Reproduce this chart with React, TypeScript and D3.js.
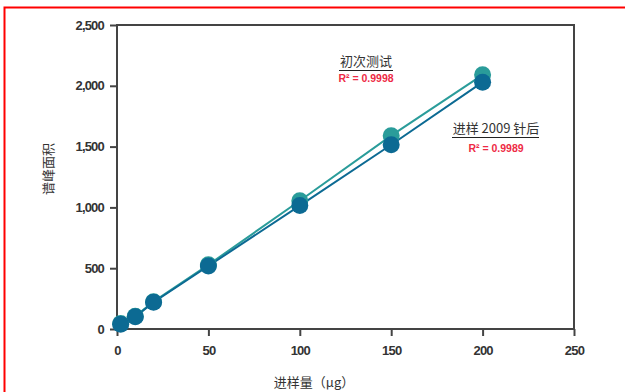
import { useEffect, useRef } from 'react'
import * as d3 from 'd3'

// 进样量 (µg)
const doses = [2, 10, 20, 50, 100, 150, 200]
// 初次测试
const firstRun = [45, 105, 225, 528, 1055, 1590, 2090]
// 进样 2009 针后
const after2009 = [40, 100, 220, 518, 1015, 1515, 2030]

const xTicks = [0, 50, 100, 150, 200, 250]
const yTicks = [0, 500, 1000, 1500, 2000, 2500]

const series = [
  { name: '初次测试', values: firstRun, color: '#2a9c9a', r2: 'R² = 0.9998' },
  { name: '进样 2009 针后', values: after2009, color: '#0c6a93', r2: 'R² = 0.9989' },
]

const W = 625
const H = 392

export default function App() {
  const svgRef = useRef<SVGSVGElement>(null)

  useEffect(() => {
    if (!svgRef.current) return
    const svg = d3.select(svgRef.current)
    svg.selectAll('*').remove()

    const left = 117, right = 574, top = 25, bottom = 329
    const x = d3.scaleLinear().domain([0, 250]).range([left, right])
    const y = d3.scaleLinear().domain([0, 2500]).range([bottom, top])

    const numFont = '"Liberation Sans", Arial, sans-serif'
    const cjkFont = '"Noto Sans CJK SC", sans-serif'

    // red outer frame
    svg.append('rect')
      .attr('x', 4.5).attr('y', 7.5)
      .attr('width', 700).attr('height', 500)
      .attr('fill', 'none')
      .attr('stroke', '#f00')
      .attr('stroke-width', 2)

    // plot frame
    svg.append('rect')
      .attr('x', left).attr('y', top)
      .attr('width', right - left).attr('height', bottom - top)
      .attr('fill', 'none')
      .attr('stroke', '#444')
      .attr('stroke-width', 2)

    // y axis
    const yAxis = svg.append('g')
      .attr('transform', `translate(${left},0)`)
      .call(d3.axisLeft(y).tickValues(yTicks).tickSize(7).tickPadding(6)
        .tickFormat(d => d3.format(',')(d as number)))
    yAxis.select('.domain').remove()
    yAxis.selectAll('line').attr('stroke', '#444').attr('stroke-width', 2)
    yAxis.selectAll('text')
      .attr('font-family', numFont).attr('font-size', 13).attr('font-weight', 'bold')
      .attr('letter-spacing', -0.8).attr('fill', '#333')

    // x axis
    const xAxis = svg.append('g')
      .attr('transform', `translate(0,${bottom})`)
      .call(d3.axisBottom(x).tickValues(xTicks).tickSize(7).tickPadding(10))
    xAxis.select('.domain').remove()
    xAxis.selectAll('line').attr('stroke', '#444').attr('stroke-width', 2)
    xAxis.selectAll('text')
      .attr('font-family', numFont).attr('font-size', 13).attr('font-weight', 'bold')
      .attr('letter-spacing', -0.8).attr('fill', '#333')

    // axis titles
    svg.append('text')
      .attr('x', 314).attr('y', 387)
      .attr('text-anchor', 'middle')
      .attr('font-family', cjkFont).attr('font-size', 13).attr('fill', '#333')
      .text('进样量（μg）')
    svg.append('text')
      .attr('transform', 'translate(53,169) rotate(-90)')
      .attr('text-anchor', 'middle')
      .attr('font-family', cjkFont).attr('font-size', 13).attr('fill', '#333')
      .text('谱峰面积')

    // lines and dots
    series.forEach(s => {
      const pts = doses.map((d, i) => [d, s.values[i]] as [number, number])
      svg.append('path')
        .datum(pts)
        .attr('fill', 'none')
        .attr('stroke', s.color)
        .attr('stroke-width', 2)
        .attr('d', d3.line<[number, number]>().x(d => x(d[0])).y(d => y(d[1])))
    })
    series.forEach(s => {
      svg.append('g').selectAll('circle')
        .data(doses.map((d, i) => [d, s.values[i]]))
        .enter()
        .append('circle')
        .attr('cx', d => x(d[0]))
        .attr('cy', d => y(d[1]))
        .attr('r', 8.5)
        .attr('fill', s.color)
    })

    // annotations
    const notes = [
      { s: series[0], cx: 366, ty: 66, ul: [339, 393], ry: 82 },
      { s: series[1], cx: 496, ty: 133, ul: [452, 539], ry: 152 },
    ]
    notes.forEach(n => {
      svg.append('text')
        .attr('x', n.cx).attr('y', n.ty)
        .attr('text-anchor', 'middle')
        .attr('font-family', cjkFont).attr('font-size', 13).attr('fill', '#333')
        .text(n.s.name)
      svg.append('line')
        .attr('x1', n.ul[0]).attr('x2', n.ul[1])
        .attr('y1', n.ty + 4.5).attr('y2', n.ty + 4.5)
        .attr('stroke', '#222').attr('stroke-width', 1.2)
      svg.append('text')
        .attr('x', n.cx).attr('y', n.ry)
        .attr('text-anchor', 'middle')
        .attr('font-family', '"Liberation Sans Narrow", "Liberation Sans", sans-serif')
        .attr('font-size', 10.5).attr('font-weight', 'bold').attr('fill', '#ee2a45')
        .text(n.s.r2)
    })
  }, [])

  return (
    <div style={{ position: 'absolute', left: 0, top: 0, width: W, height: H, background: '#fff' }}>
      <svg ref={svgRef} width={W} height={H} style={{ display: 'block' }} />
    </div>
  )
}
